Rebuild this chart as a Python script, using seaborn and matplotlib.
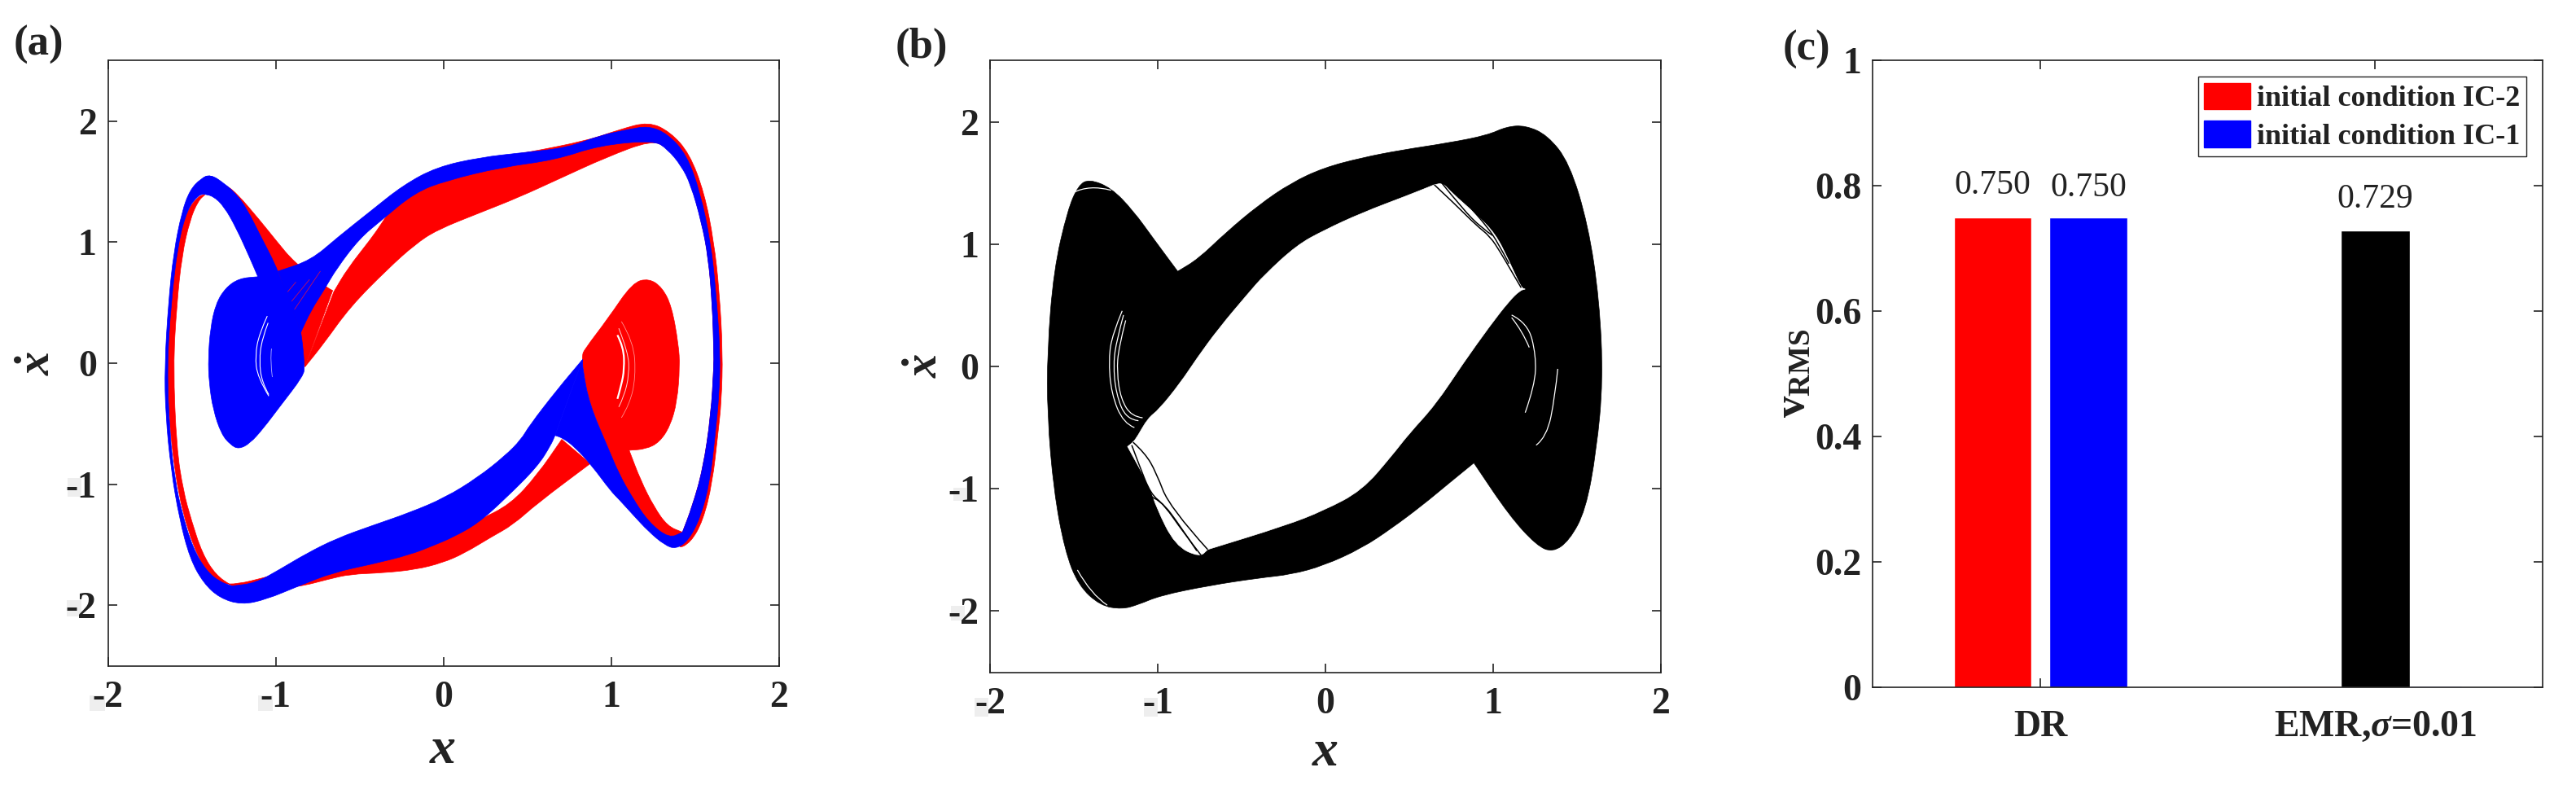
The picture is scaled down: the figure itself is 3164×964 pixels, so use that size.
import matplotlib
matplotlib.use("Agg")
import matplotlib.pyplot as plt
from matplotlib.patches import Patch, PathPatch, Rectangle
from matplotlib.path import Path
import pandas as pd
import seaborn as sns

# panel (a): outlines, (x, xdot). A point listed twice is a sharp corner.
red_right_top = [(1.394, -1.538), (1.475, -1.482), (1.548, -1.303), (1.604, -0.989), (1.637, -0.586), (1.658, -0.317),
                 (1.666, 0.087), (1.645, 0.602), (1.613, 1.005), (1.556, 1.408), (1.467, 1.734), (1.353, 1.91),
                 (1.224, 1.995), (1.05, 1.93), (0.86, 1.84), (0.5, 1.74), (0, 1.62), (-0.3, 1.3), (-0.37, 1.15),
                 (-0.43, 1.03), (-0.572, 0.78), (-0.653, 0.59), (-0.653, 0.59), (-0.825, -0.03), (-0.825, -0.03),
                 (-0.718, 0.153), (-0.555, 0.467), (-0.33, 0.781), (-0.17, 0.98), (-0.04, 1.10), (0.22, 1.244),
                 (0.446, 1.368), (0.706, 1.533), (0.966, 1.698), (1.242, 1.843), (1.337, 1.78), (1.418, 1.65),
                 (1.475, 1.49), (1.54, 1.17), (1.58, 0.88), (1.604, 0.49), (1.614, 0.087), (1.613, -0.026),
                 (1.596, -0.429), (1.548, -0.877), (1.483, -1.19), (1.426, -1.397), (1.426, -1.397)]
red_right_spiral = [(1.226, 0.70), (1.305, 0.625), (1.362, 0.468), (1.402, 0.154), (1.41, -0.026), (1.394, -0.317),
                    (1.353, -0.518), (1.289, -0.653), (1.208, -0.71), (1.108, -0.72), (1.108, -0.72), (1.176, -0.967),
                    (1.257, -1.19), (1.337, -1.347), (1.426, -1.397), (1.426, -1.397), (1.39, -1.50), (1.224, -1.34),
                    (1.127, -1.13), (1.046, -0.93), (0.981, -0.697), (0.871, -0.339), (0.831, -0.048), (0.828, 0.064),
                    (0.84, 0.11), (0.981, 0.367), (1.128, 0.665)]
red_lower_left = [(0.706, -0.63), (0.706, -0.63), (0.876, -0.83), (0.876, -0.83), (0.561, -1.157), (0.415, -1.336),
                  (0.285, -1.437), (0.124, -1.572), (-0.006, -1.65), (-0.167, -1.706), (-0.362, -1.733),
                  (-0.556, -1.744), (-0.685, -1.785), (-0.863, -1.85), (-1.21, -1.9), (-1.26, -1.841), (-1.26, -1.841),
                  (-1.357, -1.751), (-1.438, -1.572), (-1.502, -1.302), (-1.551, -1.056), (-1.591, -0.698),
                  (-1.611, -0.026), (-1.591, 0.466), (-1.559, 0.893), (-1.511, 1.184), (-1.462, 1.341), (-1.421, 1.393),
                  (-1.421, 1.393), (-1.46, 1.38), (-1.53, 1.26), (-1.6, 0.95), (-1.63, 0.49), (-1.65, 0), (-1.63, -0.6),
                  (-1.56, -1.25), (-1.42, -1.75), (-1.3, -1.85), (-1.0, -1.75), (-0.4, -1.5), (0.06, -1.41),
                  (0.205, -1.30), (0.399, -1.168), (0.561, -0.922)]
red_left_wedge = [(-1.39, 1.5), (-1.308, 1.48), (-1.235, 1.409), (-1.09, 1.173), (-1.0, 1.017), (-0.888, 0.83),
                  (-0.693, 0.624), (-0.66, 0.60), (-0.66, 0.60), (-0.825, -0.03), (-0.825, -0.03), (-1.0, 0.7),
                  (-1.3, 1.4)]

blue_left_bottom = [(-1.30, 1.47), (-1.389, 1.56), (-1.446, 1.525), (-1.511, 1.431), (-1.559, 1.252), (-1.608, 0.916),
                    (-1.64, 0.49), (-1.662, -0.026), (-1.656, -0.429), (-1.624, -0.877), (-1.575, -1.28),
                    (-1.511, -1.616), (-1.43, -1.818), (-1.333, -1.941), (-1.203, -1.996), (-1.057, -1.953),
                    (-0.863, -1.841), (-0.653, -1.728), (-0.426, -1.661), (-0.2, -1.583), (-0.054, -1.504),
                    (0.059, -1.437), (0.205, -1.325), (0.367, -1.123), (0.561, -0.855), (0.642, -0.675), (0.666, -0.597),
                    (0.666, -0.597), (0.83, 0.03), (0.83, 0.03), (0.674, -0.227), (0.512, -0.518), (0.464, -0.631),
                    (0.367, -0.767), (0.205, -0.945), (0.01, -1.112), (-0.2, -1.235), (-0.426, -1.343), (-0.636, -1.448),
                    (-0.815, -1.572), (-0.977, -1.706), (-1.122, -1.818), (-1.26, -1.841), (-1.26, -1.841),
                    (-1.333, -1.807), (-1.413, -1.717), (-1.494, -1.527), (-1.559, -1.235), (-1.6, -0.967),
                    (-1.632, -0.586), (-1.648, -0.026), (-1.624, 0.49), (-1.583, 0.983), (-1.527, 1.272),
                    (-1.462, 1.386), (-1.43, 1.397), (-1.43, 1.397)]
blue_right_top = [(0.666, -0.597), (0.666, -0.597), (0.714, -0.62), (0.787, -0.697), (0.884, -0.844), (0.998, -1.056),
                  (1.046, -1.123), (1.127, -1.247), (1.224, -1.392), (1.321, -1.504), (1.386, -1.535), (1.459, -1.47),
                  (1.532, -1.28), (1.588, -0.989), (1.62, -0.608), (1.645, -0.25), (1.651, 0.087), (1.625, 0.602),
                  (1.593, 1.005), (1.532, 1.408), (1.451, 1.722), (1.337, 1.895), (1.224, 1.96), (1.10, 1.93),
                  (0.93, 1.88), (0.74, 1.78), (0.48, 1.74), (0.22, 1.70), (-0.04, 1.62), (-0.24, 1.47), (-0.43, 1.26),
                  (-0.63, 1.04), (-0.79, 0.85), (-0.985, 0.76), (-0.985, 0.76), (-0.85, 0.254), (-0.85, 0.254),
                  (-0.79, 0.434), (-0.708, 0.612), (-0.637, 0.781), (-0.50, 1.03), (-0.37, 1.18), (-0.17, 1.41),
                  (0.02, 1.51), (0.35, 1.62), (0.67, 1.68), (0.93, 1.80), (1.257, 1.841), (1.337, 1.767), (1.418, 1.633),
                  (1.475, 1.477), (1.54, 1.162), (1.58, 0.871), (1.604, 0.49), (1.613, 0.087), (1.613, -0.026),
                  (1.596, -0.429), (1.548, -0.877), (1.483, -1.19), (1.426, -1.397), (1.426, -1.397), (1.346, -1.448),
                  (1.224, -1.314), (1.127, -1.112), (1.046, -0.911), (0.981, -0.697), (0.871, -0.339), (0.831, -0.048),
                  (0.83, 0.03), (0.83, 0.03)]
blue_left_spiral = [(-1.389, 1.56), (-1.308, 1.487), (-1.235, 1.397), (-1.171, 1.274), (-1.09, 1.05), (-0.985, 0.77),
                    (-0.85, 0.254), (-0.85, 0.254), (-0.839, 0.154), (-0.828, -0.026), (-0.834, -0.104),
                    (-0.977, -0.362), (-1.074, -0.54), (-1.154, -0.664), (-1.22, -0.71), (-1.268, -0.676),
                    (-1.324, -0.586), (-1.373, -0.384), (-1.397, -0.16), (-1.402, 0.04), (-1.389, 0.288),
                    (-1.357, 0.49), (-1.30, 0.62), (-1.219, 0.70), (-1.106, 0.714), (-1.106, 0.714), (-1.154, 0.87),
                    (-1.235, 1.117), (-1.308, 1.296), (-1.373, 1.381), (-1.43, 1.397), (-1.43, 1.397), (-1.45, 1.52)]

# gaps and stray strands of panel (a)
blue_gap_a = [(-1.05, 0.389), (-1.098, 0.244), (-1.122, 0.064), (-1.109, -0.115), (-1.041, -0.272)]
blue_gap_b = [(-1.045, 0.333), (-1.082, 0.198), (-1.098, 0.02), (-1.082, -0.16), (-1.041, -0.26)]
blue_gap_c = [(-1.025, 0.12), (-1.033, 0.02), (-1.02, -0.115)]
red_gap_a = [(1.038, 0.232), (1.075, 0.131), (1.079, -0.05), (1.062, -0.18), (1.038, -0.295)]
red_gap_b = [(1.046, 0.288), (1.103, 0.088), (1.108, -0.093), (1.079, -0.272), (1.046, -0.362)]
red_gap_c = [(1.062, 0.344), (1.135, 0.176), (1.147, -0.117), (1.111, -0.34), (1.062, -0.451)]
red_strand_a = [(-0.904, 0.512), (-0.799, 0.69)]
red_strand_b = [(-0.887, 0.445), (-0.734, 0.759)]
red_strand_c = [(-0.928, 0.59), (-0.88, 0.669)]

# panel (b): silhouette and the empty middle
black_outline = [(-1.408, 1.53), (-1.278, 1.46), (-1.148, 1.276), (-1.018, 1.03), (-0.881, 0.777), (-0.881, 0.777),
                 (-0.758, 0.879), (-0.595, 1.092), (-0.40, 1.317), (-0.205, 1.50), (-0.01, 1.624), (0.218, 1.706),
                 (0.446, 1.767), (0.738, 1.828), (0.966, 1.89), (1.08, 1.96), (1.193, 1.97), (1.324, 1.89),
                 (1.454, 1.665), (1.567, 1.153), (1.633, 0.54), (1.655, -0.115), (1.616, -0.687), (1.551, -1.178),
                 (1.454, -1.423), (1.356, -1.52), (1.259, -1.464), (1.096, -1.219), (0.885, -0.789), (0.885, -0.789),
                 (0.738, -0.953), (0.576, -1.137), (0.397, -1.321), (0.218, -1.485), (-0.01, -1.628), (-0.205, -1.701),
                 (-0.40, -1.73), (-0.693, -1.791), (-0.985, -1.873), (-1.115, -1.947), (-1.213, -1.985),
                 (-1.343, -1.955), (-1.473, -1.791), (-1.554, -1.505), (-1.62, -1.014), (-1.658, -0.40),
                 (-1.658, 0.131), (-1.62, 0.785), (-1.538, 1.276), (-1.473, 1.481)]
black_hollow = [(0.649, 1.485), (0.649, 1.485), (0.70, 1.50), (0.754, 1.418), (0.90, 1.242), (1.013, 1.086),
                (1.094, 0.865), (1.167, 0.643), (1.191, 0.632), (1.191, 0.632), (1.159, 0.62), (1.094, 0.532),
                (0.981, 0.333), (0.819, 0.022), (0.657, -0.311), (0.495, -0.555), (0.397, -0.728), (0.218, -1.014),
                (-0.01, -1.178), (-0.237, -1.30), (-0.702, -1.497), (-0.702, -1.497), (-0.751, -1.56), (-0.896, -1.464),
                (-1.01, -1.15), (-1.042, -0.999), (-1.18, -0.655), (-1.18, -0.655), (-1.147, -0.62), (-1.123, -0.577),
                (-1.058, -0.422), (-0.994, -0.355), (-0.864, -0.133), (-0.767, 0.066), (-0.637, 0.31), (-0.46, 0.598),
                (-0.367, 0.744), (-0.172, 0.99), (-0.01, 1.112), (0.218, 1.256), (0.495, 1.40)]
black_strands = [
    [(0.649, 1.485), (0.77, 1.33), (0.90, 1.152), (0.981, 1.064), (1.045, 0.93), (1.11, 0.776), (1.167, 0.643)],
    [(0.689, 1.507), (0.819, 1.285), (0.932, 1.13), (0.997, 1.07)],
    [(0.722, 1.52), (0.851, 1.32), (0.965, 1.14), (1.029, 1.01), (1.094, 0.84)],
    [(-1.147, -0.62), (-1.075, -0.71), (-1.01, -0.865), (-0.929, -1.154), (-0.702, -1.497)],
    [(-1.155, -0.644), (-1.107, -0.82), (-1.042, -1.043), (-0.961, -1.132), (-0.849, -1.353), (-0.743, -1.541)],
    [(-1.058, -1.054), (-0.985, -1.087), (-0.864, -1.308), (-0.767, -1.508)],
]
white_strands = [
    [(-1.212, 0.454), (-1.269, 0.266), (-1.293, 0.066), (-1.277, -0.222), (-1.204, -0.466), (-1.139, -0.50)],
    [(-1.204, 0.42), (-1.244, 0.22), (-1.265, 0.022), (-1.249, -0.222), (-1.188, -0.433), (-1.115, -0.444)],
    [(-1.191, 0.376), (-1.233, 0.155), (-1.244, -0.045), (-1.22, -0.267), (-1.155, -0.41), (-1.09, -0.42)],
    [(1.11, 0.42), (1.207, 0.355), (1.256, 0.088), (1.248, -0.156), (1.191, -0.378)],
    [(1.11, 0.399), (1.175, 0.288), (1.215, 0.155)],
    [(1.256, -0.644), (1.32, -0.578), (1.369, -0.243), (1.385, -0.02)],
    [(-1.479, -1.664), (-1.398, -1.863), (-1.301, -1.952)],
    [(-1.505, 1.42), (-1.408, 1.488), (-1.278, 1.44)],
    [(0.875, -0.80), (1.062, -1.13)],
]

# panel (c)
categories = ["DR", "EMR,$\\sigma$=0.01"]
ic2_dr = [0.750]
ic1_dr = [0.750]
ic2_emr = [0.0]
ic1_emr = [0.0]
emr_value = [0.729]
phase_ticks = [-2, -1, 0, 1, 2]
phase_tick_labels = ["-2", "-1", "0", "1", "2"]
rms_ticks = [0, 0.2, 0.4, 0.6, 0.8, 1]
rms_tick_labels = ["0", "0.2", "0.4", "0.6", "0.8", "1"]

W, H = 3164, 964
INK = "#222222"

sns.set_theme(style="ticks")
plt.rcParams["font.family"] = ["Liberation Serif", "DejaVu Serif"]
plt.rcParams["font.weight"] = "bold"
plt.rcParams["mathtext.fontset"] = "custom"
plt.rcParams["mathtext.rm"] = "Liberation Serif:bold"
plt.rcParams["mathtext.bf"] = "Liberation Serif:bold"
plt.rcParams["mathtext.it"] = "Liberation Serif:italic:bold"

fig = plt.figure(figsize=(W / 100, H / 100), dpi=100)


def pix_axes(left, right, top, bottom):
    return fig.add_axes([left / W, 1 - bottom / H, (right - left) / W, (bottom - top) / H])


def pix_text(x, y, s, **kw):
    fig.text(x / W, 1 - y / H, s, ha="center", va="center", color=INK, **kw)


def curve_path(pts, closed):
    # quadratic pieces through the midpoints, so the read points act as control points
    if closed:
        pts = list(pts) + [pts[0]]
        start = ((pts[0][0] + pts[-2][0]) / 2, (pts[0][1] + pts[-2][1]) / 2)
        pieces = pts[:-1]
    else:
        start = pts[0]
        pieces = pts[1:-1]
    verts, codes = [start], [Path.MOVETO]
    for i, p in enumerate(pieces):
        q = pts[i + 1] if closed else pts[i + 2]
        end = ((p[0] + q[0]) / 2, (p[1] + q[1]) / 2)
        if not closed and i == len(pieces) - 1:
            end = q
        verts += [p, end]
        codes += [Path.CURVE3, Path.CURVE3]
    return Path(verts, codes)


def band(ax, pts, color):
    ax.add_patch(PathPatch(curve_path(pts, True), facecolor=color, edgecolor=color, lw=0.5, zorder=2))


def strand(ax, pts, color, lw):
    ax.add_patch(PathPatch(curve_path(pts, False), facecolor="none", edgecolor=color, lw=lw, zorder=3))


def straight_strand(ax, pts, color, lw):
    xs, ys = zip(*pts)
    sns.lineplot(x=list(xs), y=list(ys), sort=False, estimator=None, color=color, lw=lw, ax=ax, zorder=3)


def style_frame(ax):
    ax.tick_params(direction="in", length=8, width=1.2, top=True, right=True, color=INK, labelcolor=INK,
                   labelsize=33)
    ax.tick_params(axis="x", pad=13)
    ax.tick_params(axis="y", pad=10)
    for s in ax.spines.values():
        s.set_linewidth(1.2)
        s.set_color(INK)


def style_phase(ax):
    ax.set_xlim(-2, 2)
    ax.set_ylim(-2.5, 2.5)
    ax.set_xticks(phase_ticks, phase_tick_labels)
    ax.set_yticks(phase_ticks, phase_tick_labels)
    ax.set_xlabel("")
    ax.set_ylabel("")
    style_frame(ax)


# (a)
ax_a = pix_axes(132.6, 956.5, 74.4, 817.5)
for pts in [red_lower_left, red_left_wedge, red_right_top, red_right_spiral]:
    band(ax_a, pts, "#ff0000")
for pts in [blue_left_bottom, blue_right_top, blue_left_spiral]:
    band(ax_a, pts, "#0000ff")
for pts in [red_strand_a, red_strand_b, red_strand_c]:
    straight_strand(ax_a, pts, "#c01060", 0.6)
strand(ax_a, blue_gap_a, "white", 0.8)
strand(ax_a, blue_gap_b, "white", 0.8)
strand(ax_a, blue_gap_c, "#b0b0ff", 0.6)
strand(ax_a, red_gap_a, "white", 1.6)
strand(ax_a, red_gap_b, "#ffd0d0", 0.7)
strand(ax_a, red_gap_c, "#ff9090", 0.6)
style_phase(ax_a)

# (b)
ax_b = pix_axes(1216, 2040, 74.4, 825.5)
band(ax_b, black_outline, "black")
band(ax_b, black_hollow, "white")
for pts in black_strands:
    strand(ax_b, pts, "black", 1.1)
for pts in white_strands:
    strand(ax_b, pts, "white", 0.9)
style_phase(ax_b)

# (c)
ax_c = pix_axes(2300.4, 3123, 74.4, 844)
dr_frame = pd.DataFrame({
    "case": categories[:1] * 2,
    "vrms": ic2_dr + ic1_dr,
    "ic": ["IC-2", "IC-1"],
})
emr_frame = pd.DataFrame({
    "case": categories[1:] * 2,
    "vrms": ic2_emr + ic1_emr,
    "ic": ["IC-2", "IC-1"],
})
ic_colors = {"IC-2": "#ff0000", "IC-1": "#0000ff"}
sns.barplot(data=emr_frame, x="case", y="vrms", hue="ic", order=categories, hue_order=["IC-2", "IC-1"],
            palette=ic_colors, width=0.716, gap=0.57, saturation=1, legend=False, ax=ax_c)
for bar in ax_c.patches:
    bar.set_edgecolor(bar.get_facecolor())
    bar.set_linewidth(1.0)
n_before = len(ax_c.containers)
sns.barplot(data=dr_frame, x="case", y="vrms", hue="ic", order=categories, hue_order=["IC-2", "IC-1"],
            palette=ic_colors, width=0.572, gap=0.19, saturation=1, legend=False, ax=ax_c)
dr_bars = ax_c.containers[n_before:]
sns.barplot(x=categories[1:], y=emr_value, order=categories, color="black", width=0.205, saturation=1, ax=ax_c)
emr_bars = ax_c.containers[-1]
ax_c.bar_label(dr_bars[0], fmt="%.3f", padding=14, fontsize=30, fontweight="normal", color=INK)
ax_c.bar_label(dr_bars[1], fmt="%.3f", padding=12, fontsize=30, fontweight="normal", color=INK)
ax_c.bar_label(emr_bars, fmt="%.3f", padding=14, fontsize=30, fontweight="normal", color=INK)
ax_c.set_xlim(-0.5, 1.5)
ax_c.set_ylim(0, 1)
ax_c.set_yticks(rms_ticks, rms_tick_labels)
ax_c.set_xlabel("")
ax_c.set_ylabel("")
style_frame(ax_c)
ax_c.tick_params(axis="x", pad=20)
ax_c.legend(handles=[Patch(color="#ff0000", label="initial condition IC-2"),
                     Patch(color="#0000ff", label="initial condition IC-1")],
            loc="upper right", bbox_to_anchor=(0.9755, 0.974), fontsize=26, frameon=True, fancybox=False,
            framealpha=1, edgecolor=INK, handlelength=1.58, handleheight=1.0, handletextpad=0.22,
            labelspacing=0.28, borderpad=0.2, borderaxespad=0, labelcolor=INK)

# panel letters and axis names
pix_text(47, 55, "(a)", fontsize=38)
pix_text(1132, 58, "(b)", fontsize=38)
pix_text(2219, 61, "(c)", fontsize=38)
pix_text(544, 922, "x", fontsize=46, style="italic")
pix_text(1628, 925, "x", fontsize=46, style="italic")
pix_text(47, 446, "$\\dot{x}$", fontsize=42, rotation=90)
pix_text(1137, 449, "$\\dot{x}$", fontsize=42, rotation=90)
pix_text(2203, 458, "$\\mathbf{v_{RMS}}$", fontsize=38, rotation=90)

# faint grey patches behind the minus signs, as in the scan
for x0, x1, y0, y1 in [(83, 100, 587, 610), (82, 100, 737, 757), (110, 129, 854, 873), (317, 335, 854, 873),
                       (1171, 1187, 599, 615), (1168, 1185, 744, 762), (1197, 1214, 857, 880), (1405, 1422, 857, 880)]:
    fig.add_artist(Rectangle((x0 / W, 1 - y1 / H), (x1 - x0) / W, (y1 - y0) / H, transform=fig.transFigure,
                             facecolor="#eeeeee", edgecolor="none", zorder=-1))

fig.savefig("out.png", dpi=100)
